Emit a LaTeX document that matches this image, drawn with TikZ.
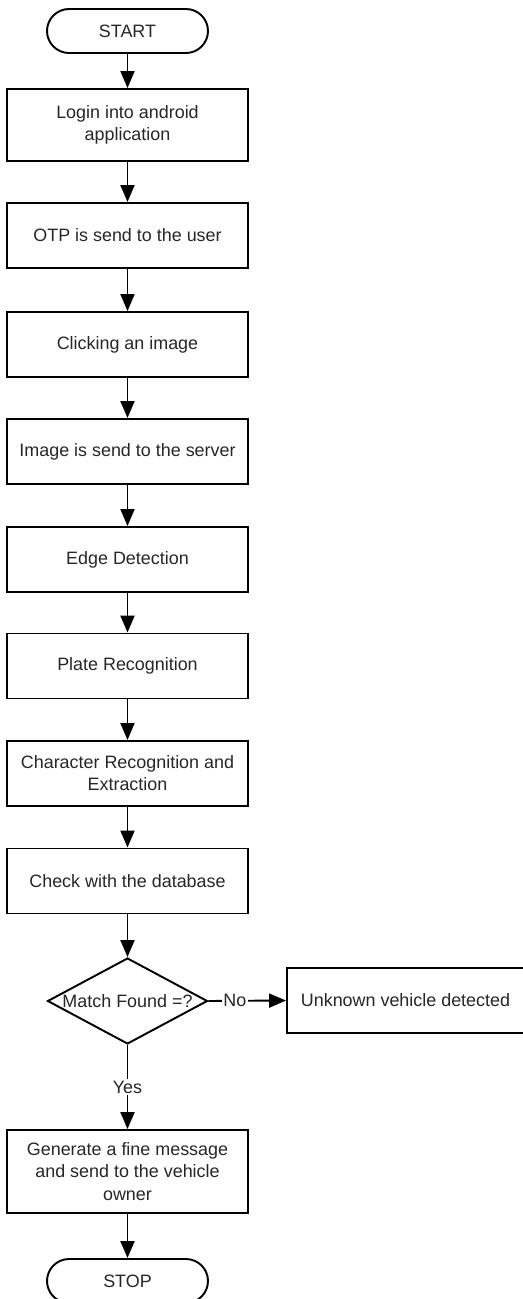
\documentclass[tikz,border=0pt]{standalone}
\usepackage{fontspec}
\setmainfont{Liberation Sans}
\usetikzlibrary{shapes.geometric,arrows.meta}

\begin{document}
\begin{tikzpicture}[x=0.02cm,y=-0.02cm,
        every node/.style={font=\fontsize{10.2}{12.6}\selectfont, text=black!85},
        process/.style={draw, line width=1.1pt, minimum width=4.82cm, minimum height=1.3cm, align=center, inner sep=2pt},
        terminal/.style={draw, line width=1.1pt, rounded corners=0.44cm, minimum width=3.22cm, minimum height=0.88cm},
        decision/.style={draw, diamond, line width=1.1pt, minimum width=3.2cm, minimum height=1.72cm, inner sep=0pt},
        flow/.style={line width=1.1pt, -{Triangle[length=0.34cm,width=0.28cm]}}]
        % Page size of the reference
        \useasboundingbox (0,0) rectangle (523,1299);
        \clip (0,0) rectangle (523,1299);
        % Main column
        \node[terminal] (start) at (127.5,31) {START};
        \node[process, minimum height=1.44cm] (login) at (127.5,125) {Login into android\\application};
        \node[process] (otp) at (127.5,235.5) {OTP is send to the user};
        \node[process] (click) at (127.5,344.5) {Clicking an image};
        \node[process] (upload) at (127.5,451.5) {Image is send to the server};
        \node[process] (edge) at (127.5,559.5) {Edge Detection};
        \node[process] (plate) at (127.5,666) {Plate Recognition};
        \node[process] (chars) at (127.5,773.5) {Character Recognition and\\Extraction};
        \node[process] (check) at (127.5,881) {Check with the database};
        % Decision
        \node[decision] (match) at (127.5,1001) {};
        \node (matchtxt) at (match.center) {Match Found =?};
        \node[process, minimum width=4.74cm] (unknown) at (405.5,1000.5) {Unknown vehicle detected};
        \node[process, minimum height=1.66cm] (fine) at (127.5,1171.5) {Generate a fine message\\and send to the vehicle\\owner};
        \node[terminal] (stop) at (127.5,1281) {STOP};
        % Connectors
        \draw[flow] (start) -- (login);
        \draw[flow] (login) -- (otp);
        \draw[flow] (otp) -- (click);
        \draw[flow] (click) -- (upload);
        \draw[flow] (upload) -- (edge);
        \draw[flow] (edge) -- (plate);
        \draw[flow] (plate) -- (chars);
        \draw[flow] (chars) -- (check);
        \draw[flow] (check) -- (match);
        \draw[flow] (match.east) -- node[pos=0.34, fill=white, inner sep=1pt] {No} (unknown.west);
        \draw[flow] (match.south) -- node[fill=white, inner sep=1pt] {Yes} (fine.north);
        \draw[flow] (fine) -- (stop);
\end{tikzpicture}
\end{document}
